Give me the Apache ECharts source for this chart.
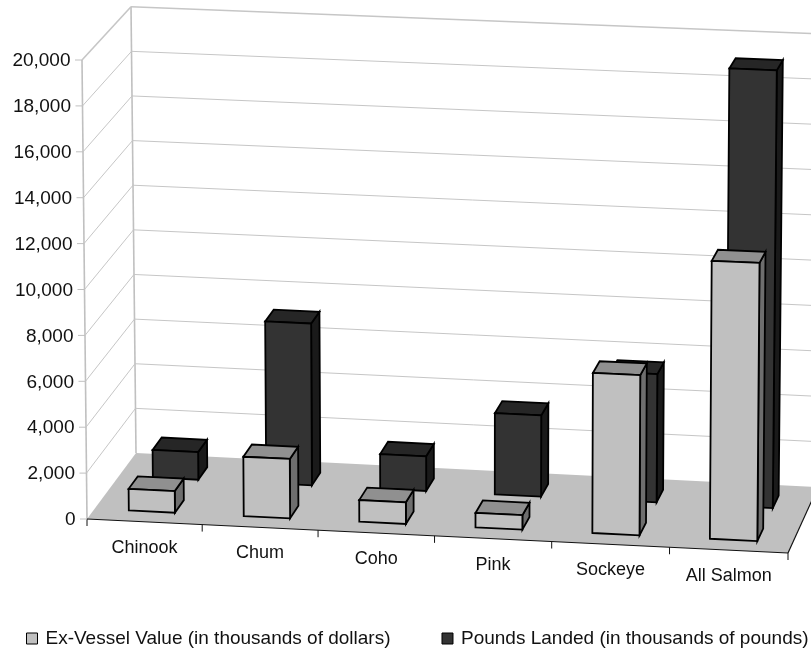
<!DOCTYPE html>
<html><head><meta charset="utf-8">
<style>html,body{margin:0;padding:0;background:#fff}#c{width:811px;height:649px}</style>
<script src="https://cdn.jsdelivr.net/npm/echarts@6/dist/echarts.min.js"></script>
</head><body><div id="c"></div>
<script>
const categories = ['Chinook','Chum','Coho','Pink','Sockeye','All Salmon'];
const exVesselValue = [945, 2585, 940, 625, 6930, 12000];
const poundsLanded = [1220, 7150, 1525, 3570, 5620, 19150];
const yTicks = [0,2000,4000,6000,8000,10000,12000,14000,16000,18000,20000];
const nameValue = 'Ex-Vessel Value (in thousands of dollars)';
const namePounds = 'Pounds Landed (in thousands of pounds)';

const G = {left:87, top:60, width:701, height:459};
const FONT = '"Liberation Sans", Arial, sans-serif';
const C = {
  FBL:[87,519], FBR:[788,553], FTL:[82,60], FTR:[792,87],
  BBL:[136,453], BBR:[818,487], BTL:[131,6.7], BTR:[823,34]
};
const R = 1.017;
function lerp(a,b,t){return a+(b-a)*t;}
function proj(uIn,d,v){
  const u=uIn/(uIn+(1-uIn)*R);
  const p=[];
  for(let i=0;i<2;i++){
    const fb=lerp(C.FBL[i],C.FBR[i],u), ft=lerp(C.FTL[i],C.FTR[i],u);
    const bb=lerp(C.BBL[i],C.BBR[i],u), bt=lerp(C.BTL[i],C.BTR[i],u);
    p[i]=lerp(lerp(fb,ft,v),lerp(bb,bt,v),d);
  }
  return p;
}
function toUV(pt){return [(pt[0]-G.left)/G.width,(G.top+G.height-pt[1])/G.height];}
function poly(points,fill,stroke,lw){
  return {type:'polygon',shape:{points},style:{fill,stroke,lineWidth:lw,lineJoin:'miter'}};
}
function line(a,b,stroke,lw){
  return {type:'line',shape:{x1:a[0],y1:a[1],x2:b[0],y2:b[1]},style:{stroke,lineWidth:lw,fill:null}};
}
function barRenderer(d0,d1,front,side,top){
  return function(params,api){
    const c=toUV(api.coord([api.value(0),api.value(1)]));
    const bandU=api.size([1,0])[0]/G.width;
    const w=bandU*0.402;
    const u0=c[0]-w/2,u1=c[0]+w/2,v=c[1];
    const s='#000',lw=1.8;
    return {type:'group',children:[
      poly([proj(u1,d0,0),proj(u1,d1,0),proj(u1,d1,v),proj(u1,d0,v)],side,s,lw),
      poly([proj(u0,d0,v),proj(u1,d0,v),proj(u1,d1,v),proj(u0,d1,v)],top,s,lw),
      poly([proj(u0,d0,0),proj(u1,d0,0),proj(u1,d0,v),proj(u0,d0,v)],front,s,lw)
    ]};
  };
}
function wallRenderer(params,api){
  const val=api.value(0);
  const v=toUV(api.coord([0,val]))[1];
  const col='#c6c6c6', lw=(v>0.99)?1.6:1;
  const kids=[];
  if(v<0.001){
    kids.push(poly([proj(0,0,0),proj(1,0,0),proj(1,1,0),proj(0,1,0)],'#c0c0c0','none',0));
    kids.push(line(proj(0,0,0),proj(0,0,1),'#c0c0c0',1.6));
    kids.push(line(proj(0,1,0),proj(0,1,1),'#c0c0c0',1.6));
    kids.push(line(proj(0,0,0),proj(1,0,0),'#111',1.2));
    kids.push(line(proj(1,0,0),proj(1,1,0),'#111',1.2));
    for(let i=0;i<=categories.length;i++){
      const p=proj(i/categories.length,0,0);
      kids.push(line(p,[p[0],p[1]+7],'#111',1));
    }
  } else {
    kids.push(line(proj(0,0,v),proj(0,1,v),col,lw));
    kids.push(line(proj(0,1,v),proj(1,1,v),col,lw));
  }
  const t=proj(0,0,v);
  kids.push(line([t[0]-7,t[1]],t,'#c0c0c0',1));
  kids.push({type:'text',x:t[0]-11.5,y:t[1]+1,style:{
    text:val.toLocaleString('en-US'),fill:'#111',font:'19px '+FONT,align:'right',verticalAlign:'middle'
  }});
  return {type:'group',children:kids};
}
function labelRenderer(params,api){
  const c=toUV(api.coord([api.value(0),0]));
  const p=proj(c[0],0,0);
  return {type:'text',x:p[0],y:p[1]+26,style:{
    text:categories[api.value(0)],fill:'#111',font:'18px '+FONT,align:'center',verticalAlign:'middle'
  }};
}
const chart=echarts.init(document.getElementById('c'),null,{renderer:'canvas'});
chart.setOption({
  animation:false,
  backgroundColor:'#fff',
  textStyle:{fontFamily:FONT},
  grid:{left:G.left,top:G.top,width:G.width,height:G.height,containLabel:false},
  legend:{
    data:[nameValue,namePounds],left:26,top:629,padding:0,icon:'rect',itemWidth:11,itemHeight:11,itemGap:51,
    selectedMode:false,textStyle:{fontFamily:FONT,fontSize:19,color:'#111',padding:[0,0,0,3]},
    itemStyle:{borderColor:'#000',borderWidth:1}
  },
  xAxis:{type:'category',data:categories,show:false},
  yAxis:{type:'value',min:0,max:20000,interval:2000,show:false},
  tooltip:{show:false},
  series:[
    {type:'custom',name:'walls',silent:true,clip:false,z:1,renderItem:wallRenderer,
      data:yTicks.map(v=>[v]),encode:{y:0}},
    {type:'custom',name:namePounds,clip:false,z:2,itemStyle:{color:'#333333'},
      renderItem:barRenderer(0.655,0.845,'#333333','#1a1a1a','#262626'),
      data:poundsLanded.map((v,i)=>[i,v]),encode:{x:0,y:1}},
    {type:'custom',name:nameValue,clip:false,z:3,itemStyle:{color:'#c0c0c0'},
      renderItem:barRenderer(0.155,0.345,'#c0c0c0','#6e6e6e','#909090'),
      data:exVesselValue.map((v,i)=>[i,v]),encode:{x:0,y:1}},
    {type:'custom',name:'labels',silent:true,clip:false,z:4,renderItem:labelRenderer,
      data:categories.map((c,i)=>[i]),encode:{x:0}}
  ]
});
</script></body></html>
